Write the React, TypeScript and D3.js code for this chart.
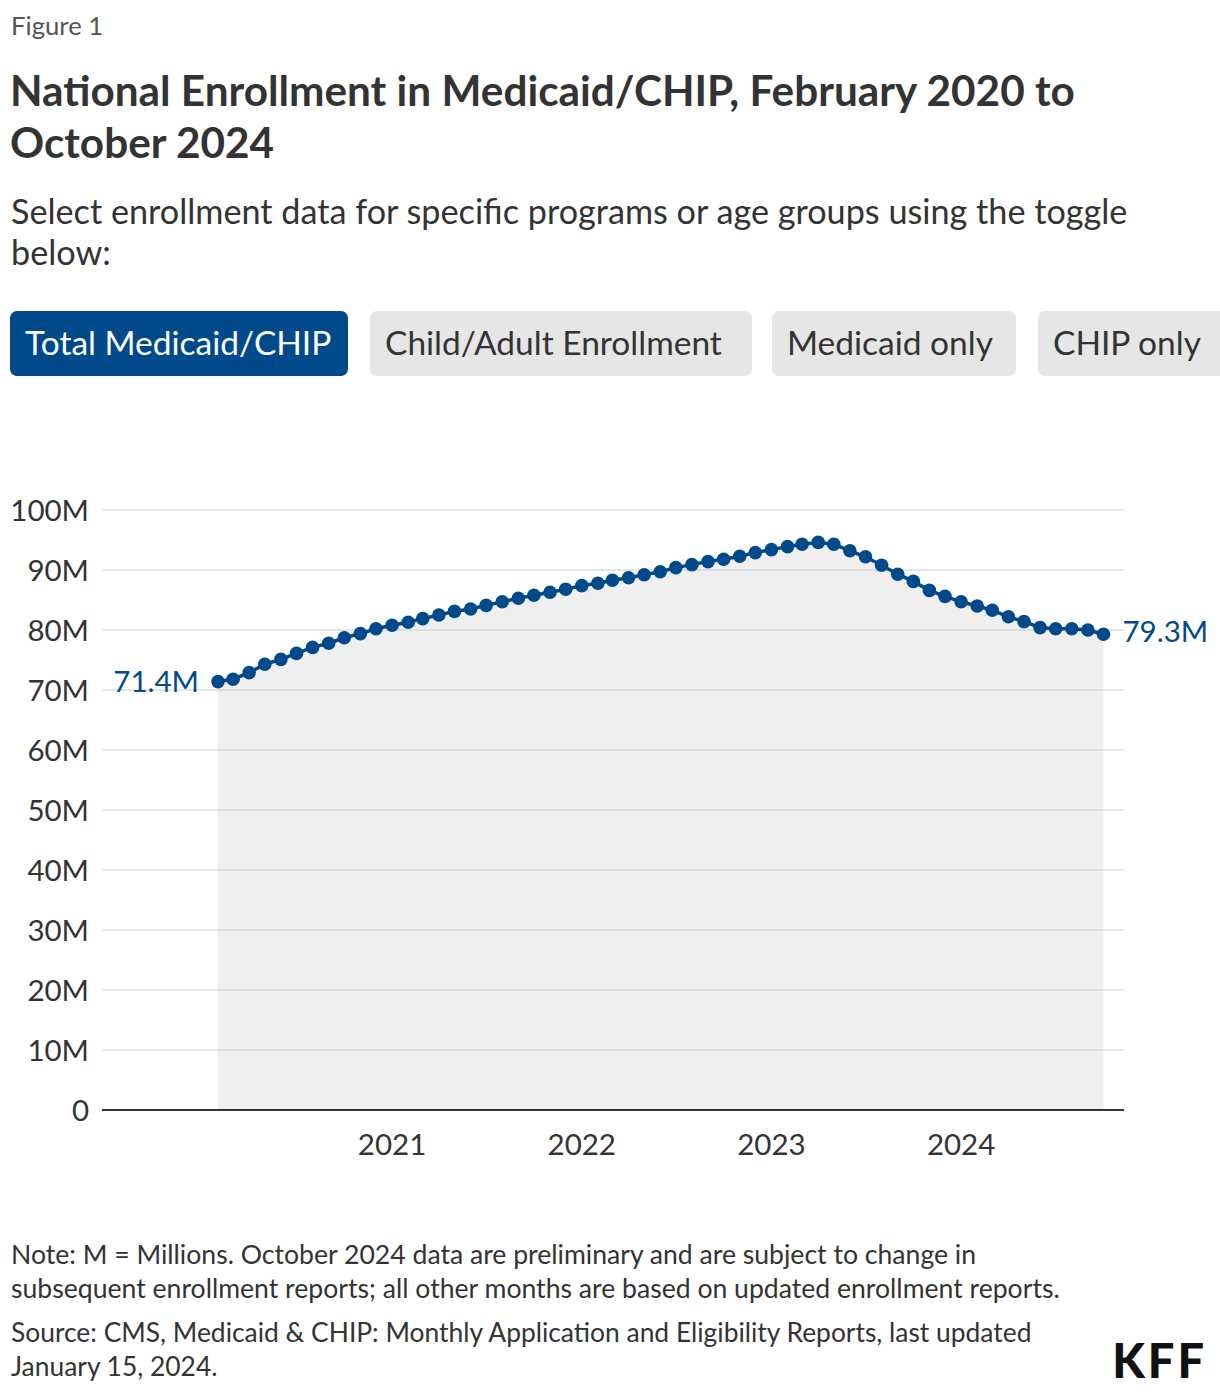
import React, { useLayoutEffect } from "react";
import * as d3 from "d3";

const startMonth = new Date(2020, 1, 1);
const endMonth = new Date(2024, 9, 1);
const enrollment = [
  71.4, 71.8, 72.9, 74.3, 75.1, 76.1, 77.1, 77.8, 78.7, 79.4,
  80.2, 80.8, 81.3, 81.9, 82.5, 83.1, 83.5, 84.1, 84.7, 85.3,
  85.8, 86.3, 86.8, 87.4, 87.8, 88.3, 88.7, 89.2, 89.7, 90.4,
  90.9, 91.4, 91.8, 92.3, 92.9, 93.4, 93.9, 94.3, 94.6, 94.3,
  93.2, 92.2, 90.8, 89.3, 88.1, 86.6, 85.6, 84.7, 84.0, 83.3,
  82.2, 81.4, 80.4, 80.2, 80.2, 80.0, 79.3,
];
const yTicks = [0, 10, 20, 30, 40, 50, 60, 70, 80, 90, 100];
const xTickYears = [2021, 2022, 2023, 2024];
const toggles = ["Total Medicaid/CHIP", "Child/Adult Enrollment", "Medicaid only", "CHIP only"];
const toggleX = [10, 370, 772, 1038];
const toggleW = [338, 382, 244, 190];
const titleLines = ["National Enrollment in Medicaid/CHIP, February 2020 to", "October 2024"];
const subtitleLines = ["Select enrollment data for specific programs or age groups using the toggle", "below:"];
const noteLines = [
  "Note: M = Millions. October 2024 data are preliminary and are subject to change in",
  "subsequent enrollment reports; all other months are based on updated enrollment reports.",
];
const sourceLines = [
  "Source: CMS, Medicaid & CHIP: Monthly Application and Eligibility Reports, last updated",
  "January 15, 2024.",
];

const BLUE = "#00498a";
const FONT = "Lato, 'Noto Sans', sans-serif";

export default function App() {
  useLayoutEffect(() => {
    document.body.style.margin = "0";
  }, []);

  const months = d3.timeMonth.range(startMonth, d3.timeMonth.offset(endMonth, 1));
  const data = months.map((m, i) => ({ date: m, value: enrollment[i] }));

  const x = d3.scaleTime().domain([startMonth, endMonth]).range([218, 1103.5]);
  const y = d3.scaleLinear().domain([0, 100]).range([1110, 510]);
  const plotLeft = 102;
  const plotRight = 1124;

  const line = d3.line<any>().x((d) => x(d.date)).y((d) => y(d.value));
  const area = d3
    .area<any>()
    .x((d) => x(d.date))
    .y0(y(0))
    .y1((d) => y(d.value));

  const first = data[0];
  const last = data[data.length - 1];

  return (
    <svg width={1220} height={1394} style={{ display: "block", fontFamily: FONT }}>
      <rect width={1220} height={1394} fill="#fff" />
      <text x={11} y={35} fontSize={25.7} fill="#555">Figure 1</text>
      {titleLines.map((t, i) => (
        <text key={t} x={10} y={106 + i * 52} fontSize={42.3} fontWeight={700} fill="#333">{t}</text>
      ))}
      {subtitleLines.map((t, i) => (
        <text key={t} x={11} y={224 + i * 41} fontSize={34.2} fill="#333">{t}</text>
      ))}
      {toggles.map((t, i) => (
        <g key={t}>
          <rect x={toggleX[i]} y={311} width={toggleW[i]} height={65} rx={7} fill={i === 0 ? BLUE : "#e6e6e6"} />
          <text x={toggleX[i] + 15} y={355} fontSize={33.5} fill={i === 0 ? "#fff" : "#333"}>{t}</text>
        </g>
      ))}

      <path d={area(data) || ""} fill="#efefef" />
      {yTicks.map((v) =>
        v === 0 ? null : (
          <line key={"g" + v} x1={plotLeft} x2={plotRight} y1={y(v)} y2={y(v)} stroke="#cccccc" strokeWidth={1} />
        )
      )}
      <line x1={plotLeft} x2={plotRight} y1={y(0)} y2={y(0)} stroke="#333" strokeWidth={2} />
      {yTicks.map((v) => (
        <text key={"t" + v} x={89} y={y(v)} dy="0.36em" textAnchor="end" fontSize={29.5} fill="#333">
          {v === 0 ? "0" : `${v}M`}
        </text>
      ))}
      {xTickYears.map((yr) => (
        <text key={yr} x={x(new Date(yr, 0, 1))} y={1155} textAnchor="middle" fontSize={29.5} fill="#333">{yr}</text>
      ))}

      <path d={line(data) || ""} fill="none" stroke={BLUE} strokeWidth={3.5} />
      {data.map((d, i) => (
        <circle key={i} cx={x(d.date)} cy={y(d.value)} r={6.8} fill={BLUE} />
      ))}
      <text x={x(first.date) - 19} y={y(first.value)} dy="0.34em" textAnchor="end" fontSize={29.5} fill={BLUE}>
        {`${first.value.toFixed(1)}M`}
      </text>
      <text x={x(last.date) + 19} y={y(last.value)} dy="0.25em" textAnchor="start" fontSize={29.5} fill={BLUE}>
        {`${last.value.toFixed(1)}M`}
      </text>

      {noteLines.map((t, i) => (
        <text key={t} x={11} y={1264 + i * 34} fontSize={26.6} fill="#333">{t}</text>
      ))}
      {sourceLines.map((t, i) => (
        <text key={t} x={11} y={1342 + i * 34} fontSize={26.4} fill="#333">{t}</text>
      ))}
      <text x={1207} y={1378} textAnchor="end" fontSize={47} fontWeight={900} fill="#111" letterSpacing={3}>KFF</text>
    </svg>
  );
}
